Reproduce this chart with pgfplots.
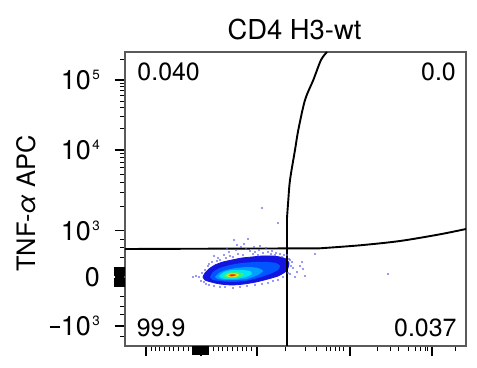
\documentclass[border=0pt]{standalone}
\usepackage{fontspec}
\setmainfont{TeX Gyre Heros}
\usepackage{pgfplots}
\pgfplotsset{compat=1.18}
\newcommand{\supx}[1]{\hspace{1.5bp}\raisebox{10.5bp}{\fontsize{13.5}{13.5}\selectfont #1}}
\newcommand{\mminus}{\rule[8bp]{10bp}{1.8bp}\hspace{1bp}}
\definecolor{c1}{HTML}{1414E0}
\definecolor{c2}{HTML}{0055FF}
\definecolor{c3}{HTML}{00A0FF}
\definecolor{c4}{HTML}{00E5F0}
\definecolor{c5}{HTML}{40F070}
\definecolor{c6}{HTML}{E8F020}
\definecolor{c7}{HTML}{FF8A00}
\definecolor{c8}{HTML}{E02010}
\definecolor{dotc}{HTML}{5A5AF0}
\definecolor{framec}{HTML}{5A5A5A}
\begin{document}
\begin{tikzpicture}
\path[use as bounding box] (-125bp,-22bp) rectangle (352bp,346bp);
\begin{axis}[
  at={(0,0)}, anchor=south west,
  scale only axis, width=341bp, height=294bp,
  xmin=0, xmax=341, ymin=0, ymax=294,
  axis line style={framec, line width=1.3bp},
  tick pos=left, tick align=outside,
  major tick length=10bp, minor tick length=5bp,
  every major tick/.style={black, line width=1.6bp},
  every minor tick/.style={black, line width=1bp},
  xtick={21,76,131.7,225,307}, xticklabels={},
  minor xtick={26.7,31,35,39.3,44.3,49,54,58.3,63.3,88.3,93.3,97.7,102.3,107.3,112.3,117.3,121.7,126.7,160,180,191.7,201,205.7,210,214.3,218.3,252.3,265,273.3,283.3,290,295,300,302.7,330},
  ytick={20,69,115.3,196,266},
  yticklabels={\mminus 10\supx{3},0,10\supx{3},10\supx{4},10\supx{5}},
  minor ytick={9.3,31,39.3,49,88,98,106,139.6,153.8,163.9,171.7,178.1,183.5,188.2,192.3,217.1,229.4,238.1,244.9,250.5,255.2,259.2,262.8,286},
  extra x ticks={68,69.5,71,72.5,74,75.5,77,78.5,80,81.5,83},
  extra x tick labels={},
  extra x tick style={major tick length=9bp, every major tick/.style={black, line width=1.2bp}},
  extra y ticks={60,61.5,63,64.5,66,67.5,70.5,72,73.5,75,76.5,78},
  extra y tick labels={},
  extra y tick style={major tick length=11bp, every major tick/.style={black, line width=1.2bp}},
  yticklabel style={font=\fontsize{27}{27}\selectfont, inner sep=0pt, anchor=east, xshift=-15bp},
  ylabel={TNF-{\itshape α} APC},
  ylabel style={font=\fontsize{25.5}{25.5}\selectfont, at={(axis description cs:-0.291,0.485)}, anchor=center},
  title={CD4 H3-wt},
  title style={font=\fontsize{27.5}{27.5}\selectfont, at={(axis description cs:0.497,1)}, anchor=base, yshift=7bp},
]
% density contours
\addplot[fill=c1, draw=c1, line width=0.8bp, smooth, tension=0.4] coordinates {(78,69) (80,73) (84,77) (90,81) (98,84) (107,86) (117,88) (127,89) (137,90) (147,90) (155,89) (161,87) (164,83) (163,78) (160,74) (153,70) (143,67) (131,64) (119,62) (107,61) (95,62) (86,64) (80,66) (78,69)};
\addplot[fill=c2, draw=none, smooth, tension=0.4] coordinates {(85,69) (88,74) (95,78) (105,81) (117,83) (130,84) (142,84) (151,83) (155,80) (153,76) (145,72) (133,68) (120,65) (107,64) (95,65) (88,66) (85,69)};
\addplot[fill=c3, draw=none, smooth, tension=0.4] coordinates {(90,69) (94,73) (101,76) (111,78) (123,79) (133,78) (138,75) (133,71) (122,67) (110,66) (99,66) (93,67) (90,69)};
\addplot[fill=c4, draw=none, smooth, tension=0.4] coordinates {(94,70) (99,74) (107,76) (117,76) (125,75) (127,72) (121,69) (111,67) (101,67) (96,68) (94,70)};
\addplot[fill=c5, draw=none, smooth, tension=0.4] coordinates {(98,70) (102,73) (109,74) (117,73) (119,71) (115,69) (107,68) (101,68) (98,70)};
\addplot[fill=c6, draw=none, smooth, tension=0.4] coordinates {(101,70.5) (105,72.5) (111,72.5) (114,71) (111,69.2) (105,68.8) (101,70.5)};
\addplot[fill=c7, draw=none, smooth, tension=0.4] coordinates {(103,70.7) (106,72) (110,72) (112,70.8) (109,69.6) (105,69.5) (103,70.7)};
\addplot[fill=c8, draw=none, smooth, tension=0.4] coordinates {(105,70.8) (107,71.5) (109.5,71.3) (110,70.6) (108,70) (106,70) (105,70.8)};
% sparse events
\addplot[only marks, mark=*, mark size=0.6bp, dotc, mark options={draw=none, fill=dotc}] coordinates {
(87,84) (93,88) (99,91) (104,94) (111,96) (116,99) (121,97) (125,95) (130,94) (134,96) (138,93) (143,94) (147,95) (151,93) (155,92) (159,91) (141,98) (109,106) (123,107) (137,138) (153,123) (177,84) (180,70) (178,77) (190,92) (263,72) (172,74) (175,80) (167,84) (168,78) (170,69) (165,72) (74,69) (71,70) (68,69) (76,65) (81,62) (89,60) (100,59) (115,59) (130,61) (143,63) (153,66) (164,87) (162,91) (105,90) (95,86) (83,80) (129,99) (119,102)
(92,85) (101,88) (108,89) (113,92) (118,91) (128,92) (133,91) (146,92) (150,91) (157,89) (84,82) (80,76) (77,73) (79,64) (84,61) (95,59) (108,58) (122,60) (137,62) (148,65) (158,69) (163,73) (166,80) (165,86) (112,101) (135,100) (102,97) (89,90)};
% gates
\addplot[black, line width=1.9bp] coordinates {(0,97) (195,97.7)};
\addplot[black, line width=1.9bp, smooth] coordinates {(195,97.7) (235,100.7) (275,105) (315,111.7) (341,117)};
\addplot[black, line width=1.9bp] coordinates {(162,0) (162,128)};
\addplot[black, line width=1.9bp, smooth] coordinates {(162,128) (163.3,146) (165,166) (170,196) (173.3,216) (180,246) (188.3,266) (196,286) (202,294)};
% quadrant frequencies
\node[anchor=base west, inner sep=0pt, font=\fontsize{25}{25}\selectfont] at (axis cs:12.3,265) {0.040};
\node[anchor=base east, inner sep=0pt, font=\fontsize{25}{25}\selectfont] at (axis cs:331,265) {0.0};
\node[anchor=base west, inner sep=0pt, font=\fontsize{25}{25}\selectfont] at (axis cs:11.7,9.3) {99.9};
\node[anchor=base east, inner sep=0pt, font=\fontsize{25}{25}\selectfont] at (axis cs:331.7,10) {0.037};
\end{axis}
\end{tikzpicture}
\end{document}
